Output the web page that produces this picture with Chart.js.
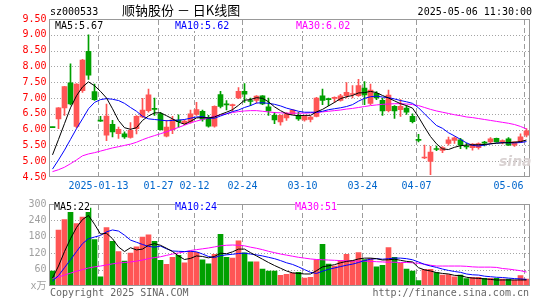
<!DOCTYPE html>
<html><head><meta charset="utf-8">
<script src="https://cdn.jsdelivr.net/npm/chart.js@4.4.1/dist/chart.umd.min.js"></script>
<style>
html,body{margin:0;padding:0;background:#fff;width:545px;height:300px;overflow:hidden;}
#wrap{position:relative;width:545px;height:300px;font-family:"DejaVu Sans Mono",monospace;font-size:10px;}
canvas{position:absolute;left:0;z-index:2;}
#grid{position:absolute;left:0;top:0;width:545px;height:300px;z-index:1;}
.gh{position:absolute;height:1px;background:repeating-linear-gradient(to right,#a4a4a4 0px,#a4a4a4 1px,transparent 1px,transparent 3px);}
.gv{position:absolute;width:1px;background:repeating-linear-gradient(to bottom,#9c9c9c 0px,#9c9c9c 5px,transparent 5px,transparent 8px);}
.t{position:absolute;white-space:pre;line-height:11px;height:11px;z-index:3;}
.bg{background:#fff;}
</style></head><body>
<div id="wrap">
<div id="grid"></div>
<canvas id="k" width="545" height="195" style="top:0;"></canvas>
<canvas id="v" width="545" height="105" style="top:195px;"></canvas>
<div class="t" style="left:50px;top:6px;color:#000;">sz000533</div>
<div class="t" style="left:122px;top:2px;font-family:'Noto Sans CJK SC';font-size:13px;line-height:16px;height:16px;color:#000;">顺钠股份 － 日K线图</div>
<div class="t" style="right:13px;top:6px;color:#000;">2025-05-06 11:30:00</div>
<div class="t bg" id="kma5" style="left:55px;top:20px;color:#000;"></div>
<div class="t bg" id="kma10" style="left:175px;top:20px;color:#0000ff;"></div>
<div class="t bg" id="kma30" style="left:296px;top:20px;color:#ff00ff;"></div>
<div class="t bg" id="vma5" style="left:54px;top:201px;color:#000;"></div>
<div class="t bg" id="vma10" style="left:175px;top:201px;color:#0000ff;"></div>
<div class="t bg" id="vma30" style="left:295px;top:201px;color:#ff00ff;"></div>
<div class="t" style="left:499px;top:153px;font-family:'DejaVu Sans';font-style:italic;font-weight:bold;font-size:14px;line-height:16px;height:16px;color:#d9d2d2;">sina</div>
<div class="t" style="left:50px;top:287px;color:#666;">Copyright 2025 SINA.COM</div>
<div class="t" style="right:16px;top:287px;color:#666;">http://finance.sina.com.cn</div>
</div>
<script>
const dates = ['2024-12-31','2025-01-02','2025-01-03','2025-01-06','2025-01-07','2025-01-08','2025-01-09','2025-01-10','2025-01-13','2025-01-14',
'2025-01-15','2025-01-16','2025-01-17','2025-01-20','2025-01-21','2025-01-22','2025-01-23','2025-01-24','2025-01-27','2025-02-05',
'2025-02-06','2025-02-07','2025-02-10','2025-02-11','2025-02-12','2025-02-13','2025-02-14','2025-02-17','2025-02-18','2025-02-19',
'2025-02-20','2025-02-21','2025-02-24','2025-02-25','2025-02-26','2025-02-27','2025-02-28','2025-03-03','2025-03-04','2025-03-05',
'2025-03-06','2025-03-07','2025-03-10','2025-03-11','2025-03-12','2025-03-13','2025-03-14','2025-03-17','2025-03-18','2025-03-19',
'2025-03-20','2025-03-21','2025-03-24','2025-03-25','2025-03-26','2025-03-27','2025-03-28','2025-03-31','2025-04-01','2025-04-02',
'2025-04-03','2025-04-07','2025-04-08','2025-04-09','2025-04-10','2025-04-11','2025-04-14','2025-04-15','2025-04-16','2025-04-17',
'2025-04-18','2025-04-21','2025-04-22','2025-04-23','2025-04-24','2025-04-25','2025-04-28','2025-04-29','2025-04-30','2025-05-06'];

const tickDates = ['2025-01-13','2025-01-27','2025-02-12','2025-02-24','2025-03-10','2025-03-24','2025-04-07','2025-05-06'];
const tickLabels = ['2025-01-13','01-27','02-12','02-24','03-10','03-24','04-07','05-06'];

const open = [6.08,6.34,6.69,7.48,6.10,7.23,8.48,7.20,6.28,5.82,
6.17,5.87,5.87,5.75,6.03,6.40,6.60,6.67,6.50,5.79,
6.00,6.30,6.19,6.25,6.48,6.58,6.38,6.11,7.11,6.81,
6.76,7.00,7.21,6.91,6.92,7.07,6.72,6.45,6.24,6.37,
6.50,6.45,6.31,6.32,6.42,7.07,6.97,6.99,6.92,7.07,
7.11,7.07,7.31,6.83,7.15,6.93,6.60,6.74,6.63,6.68,
6.42,5.68,5.10,4.99,5.39,5.34,5.56,5.66,5.68,5.47,
5.43,5.43,5.59,5.61,5.72,5.62,5.71,5.51,5.61,5.82];
const high = [6.08,6.70,7.37,8.08,7.46,8.22,9.00,7.44,6.42,6.81,
6.29,6.08,5.93,6.22,6.44,6.99,7.28,7.00,6.55,6.29,
6.42,6.47,6.31,6.62,6.86,6.62,6.45,6.75,7.21,6.92,
6.81,7.33,7.46,7.00,7.08,7.08,7.00,6.55,6.47,6.54,
6.64,6.55,6.45,6.42,7.02,7.28,7.00,7.04,7.12,7.49,
7.39,7.59,7.52,7.44,7.20,7.00,7.25,6.76,6.95,6.76,
6.50,5.85,5.51,5.47,5.48,5.46,5.76,5.77,5.72,5.57,
5.56,5.58,5.63,5.75,5.73,5.68,5.75,5.61,5.87,6.03];
const low = [6.06,6.03,6.45,6.78,6.05,7.18,7.59,6.92,6.26,5.65,
5.77,5.72,5.72,5.73,5.86,6.38,6.55,6.45,5.98,5.77,
5.87,6.08,6.16,6.20,6.45,6.27,6.08,6.08,6.69,6.62,
6.58,6.98,6.86,6.76,6.84,6.79,6.45,6.19,6.14,6.29,
6.48,6.29,6.27,6.24,6.40,6.79,6.76,6.86,6.90,7.00,
7.00,7.05,6.79,6.79,6.95,6.45,6.56,6.35,6.42,6.48,
6.21,5.61,5.08,4.57,5.33,5.27,5.51,5.56,5.40,5.39,
5.35,5.38,5.48,5.56,5.60,5.55,5.50,5.47,5.59,5.77];
const close = [6.06,6.69,7.36,6.81,7.44,8.20,7.72,6.95,6.27,6.43,
5.93,6.01,5.77,5.98,6.42,6.62,7.10,6.64,6.00,6.08,
6.31,6.25,6.27,6.50,6.63,6.33,6.11,6.74,6.73,6.78,
6.78,7.21,7.12,6.89,7.06,6.81,6.59,6.31,6.45,6.50,
6.62,6.34,6.42,6.40,7.00,6.92,6.95,7.01,7.07,7.18,
7.13,7.39,7.10,7.25,7.00,6.59,7.09,6.59,6.74,6.55,
6.25,5.66,5.12,5.29,5.37,5.43,5.68,5.74,5.51,5.45,
5.54,5.56,5.57,5.71,5.61,5.64,5.51,5.61,5.77,5.96];

const ma5 = [5.20,5.69,6.19,6.69,7.07,7.35,7.51,7.39,7.21,7.00,
6.66,6.29,6.06,6.01,6.06,6.29,6.43,6.53,6.53,6.44,
6.34,6.24,6.17,6.26,6.37,6.38,6.37,6.40,6.48,6.55,
6.63,6.77,6.93,6.95,7.01,6.99,6.88,6.72,6.60,6.50,
6.46,6.44,6.45,6.45,6.56,6.64,6.75,6.86,6.98,7.04,
7.08,7.16,7.17,7.21,7.17,7.08,7.00,6.91,6.82,6.76,
6.68,6.40,6.08,5.78,5.55,5.39,5.37,5.44,5.49,5.51,
5.52,5.52,5.53,5.55,5.57,5.58,5.59,5.60,5.62,5.67];
const ma10 = [4.75,5.04,5.35,5.69,6.03,6.34,6.66,6.86,6.95,6.98,
6.96,6.92,6.83,6.70,6.58,6.42,6.34,6.32,6.30,6.28,
6.29,6.30,6.32,6.36,6.40,6.41,6.36,6.36,6.43,6.50,
6.57,6.62,6.70,6.76,6.84,6.85,6.83,6.80,6.75,6.68,
6.63,6.58,6.55,6.55,6.55,6.58,6.63,6.66,6.69,6.73,
6.79,6.90,6.99,7.04,7.06,7.03,7.01,6.97,6.92,6.88,
6.83,6.69,6.50,6.31,6.13,6.04,5.90,5.80,5.69,5.58,
5.50,5.48,5.51,5.55,5.57,5.59,5.58,5.58,5.59,5.62];
const ma30 = [4.67,4.73,4.81,4.92,5.04,5.17,5.23,5.27,5.32,5.37,
5.42,5.46,5.50,5.54,5.60,5.68,5.75,5.81,5.87,5.93,
6.00,6.07,6.14,6.21,6.27,6.32,6.37,6.42,6.46,6.50,
6.54,6.57,6.59,6.60,6.60,6.58,6.56,6.54,6.53,6.52,
6.52,6.52,6.52,6.53,6.54,6.56,6.58,6.60,6.62,6.65,
6.67,6.70,6.73,6.76,6.78,6.80,6.81,6.82,6.82,6.81,
6.79,6.76,6.70,6.64,6.59,6.55,6.51,6.47,6.44,6.40,
6.38,6.35,6.32,6.29,6.26,6.23,6.20,6.16,6.10,6.02];

const volume = [55,205,243,296,228,252,285,170,34,214,
163,126,91,120,143,179,187,163,94,79,
105,112,85,126,123,96,81,116,189,105,
102,165,121,88,88,62,55,55,39,43,
47,50,29,32,96,152,80,73,93,116,
93,122,97,100,70,76,141,105,83,62,
55,20,61,61,49,40,42,34,40,27,
32,32,28,28,28,25,25,22,38,25];
const volMa5 = [29,73,126,173,214,243,258,226,190,193,
173,143,126,140,132,135,149,155,149,138,
126,110,97,101,110,108,103,108,120,118,
125,135,135,122,110,98,86,75,65,55,
48,46,44,44,56,70,74,78,85,90,
93,99,102,102,100,95,96,98,94,90,
88,67,59,55,49,46,44,39,38,32,
29,28,26,24,22,22,22,22,22,22];
const volMa10 = [18,38,67,96,126,155,173,179,185,198,
205,201,186,168,160,152,145,142,146,136,
128,127,126,127,125,117,108,104,111,114,
116,119,120,117,114,110,105,100,93,85,
79,70,60,50,46,54,61,66,71,76,
80,86,93,98,100,98,100,102,102,100,
96,88,79,73,68,62,57,53,50,44,
41,40,36,34,32,31,29,27,26,24];
const volMa30 = [28,33,40,47,54,60,66,70,73,77,
81,84,86,88,91,95,100,104,107,112,
117,121,125,130,133,136,139,143,147,149,
150,149,147,142,138,133,127,122,117,113,
109,105,102,99,97,96,95,94,93,92,
91,91,91,90,89,88,87,87,86,86,
85,83,80,76,73,73,73,73,73,72,
70,69,69,69,68,64,62,59,56,51];

const priceGrid = [9.0,8.5,8.0,7.5,7.0,6.5,6.0,5.5,5.0];
const volGrid = [240,180,120,60];

const RED = '#ff5555', GREEN = '#00a000';
const MONO = '"DejaVu Sans Mono", "Noto Sans CJK SC", monospace';
const markIdx = tickDates.map(d => dates.indexOf(d));
const upColor = open.map((o, i) => close[i] >= o ? RED : GREEN);
const bodies = open.map((o, i) => [Math.min(o, close[i]), Math.max(o, close[i])]);
const wicks = low.map((l, i) => [l, high[i]]);

document.getElementById('kma5').textContent = 'MA5:' + ma5[ma5.length-1].toFixed(2);
document.getElementById('kma10').textContent = 'MA10:' + ma10[ma10.length-1].toFixed(2);
document.getElementById('kma30').textContent = 'MA30:' + ma30[ma30.length-1].toFixed(2);
document.getElementById('vma5').textContent = 'MA5:' + volMa5[volMa5.length-1];
document.getElementById('vma10').textContent = 'MA10:' + volMa10[volMa10.length-1];
document.getElementById('vma30').textContent = 'MA30:' + volMa30[volMa30.length-1];

const framePlugin = {
  id: 'frame',
  afterDatasetsDraw(chart) {
    const {ctx, chartArea: a, scales: {x}} = chart;
    ctx.save();
    ctx.strokeStyle = '#999999';
    ctx.lineWidth = 1;
    const t = Math.round(a.top), b = Math.round(a.bottom);
    ctx.strokeRect(a.left, t + 0.5, a.right - a.left, b - t - 1);
    if (chart.canvas.id === 'k') {
      ctx.fillStyle = '#0066cc';
      ctx.font = '10px ' + MONO;
      ctx.textBaseline = 'middle';
      markIdx.forEach((i, k) => {
        const px = Math.floor(x.getPixelForValue(i)) - 2 + 0.5;
        const last = k === markIdx.length - 1;
        ctx.textAlign = last ? 'right' : 'center';
        ctx.fillText(tickLabels[k], last ? px - 1 : px, b + 9.5);
      });
    }
    ctx.restore();
  }
};

const lineDs = (data, color) => ({type: 'line', data, borderColor: color, borderWidth: 1,
  pointRadius: 0, tension: 0, fill: false, order: 0});

const kChart = new Chart(document.getElementById('k'), {
  type: 'bar',
  data: {
    labels: dates,
    datasets: [
      lineDs(ma5, '#000000'),
      lineDs(ma10, '#0000ff'),
      lineDs(ma30, '#ff00ff'),
      {data: bodies, backgroundColor: upColor, barThickness: 5, grouped: false, minBarLength: 1, order: 1},
      {data: wicks, backgroundColor: upColor, barThickness: 1, grouped: false, order: 2}
    ]
  },
  options: {
    responsive: false, animation: false, devicePixelRatio: 1,
    layout: {padding: {left: 0, right: 15.5, top: 19, bottom: 18}},
    plugins: {legend: {display: false}, tooltip: {enabled: false}},
    scales: {
      x: {display: false, offset: true},
      y: {min: 4.5, max: 9.5,
        ticks: {stepSize: 0.5, color: '#ff0000', padding: 3, font: {family: MONO, size: 10},
          callback: v => Number(v).toFixed(2)},
        grid: {display: false, drawTicks: false}, border: {display: false},
        afterFit(s) { s.width = 49.5; }}
    }
  },
  plugins: [framePlugin]
});

const vChart = new Chart(document.getElementById('v'), {
  type: 'bar',
  data: {
    labels: dates,
    datasets: [
      lineDs(volMa5, '#000000'),
      lineDs(volMa10, '#0000ff'),
      lineDs(volMa30, '#ff00ff'),
      {data: volume, backgroundColor: upColor, barThickness: 5, grouped: false, order: 1}
    ]
  },
  options: {
    responsive: false, animation: false, devicePixelRatio: 1,
    layout: {padding: {left: 0, right: 15.5, top: 6, bottom: 14}},
    plugins: {legend: {display: false}, tooltip: {enabled: false}},
    scales: {
      x: {display: false, offset: true},
      y: {min: 0, max: 300,
        ticks: {stepSize: 60, color: '#a0a0a0', padding: 3, font: {family: MONO, size: 10},
          callback: v => v === 0 ? 'x万' : String(v)},
        grid: {display: false, drawTicks: false}, border: {display: false},
        afterFit(s) { s.width = 49.5; }}
    }
  },
  plugins: [framePlugin]
});

// Grid layer behind the transparent chart canvases, positioned from each chart's scales
function addGrid(chart, offsetTop, vals) {
  const g = document.getElementById('grid');
  const a = chart.chartArea, x = chart.scales.x, y = chart.scales.y;
  const L = Math.round(a.left) + 1, R = Math.round(a.right);
  const T = Math.round(a.top) + 1, B = Math.round(a.bottom) - 1;
  vals.forEach(v => {
    const d = document.createElement('div');
    d.className = 'gh';
    d.style.left = L + 'px';
    d.style.width = (R - L) + 'px';
    d.style.top = (offsetTop + Math.round(y.getPixelForValue(v))) + 'px';
    g.appendChild(d);
  });
  markIdx.forEach(i => {
    const d = document.createElement('div');
    d.className = 'gv';
    d.style.left = (Math.floor(x.getPixelForValue(i)) - 2) + 'px';
    d.style.top = (offsetTop + T) + 'px';
    d.style.height = (B - T) + 'px';
    g.appendChild(d);
  });
}
addGrid(kChart, 0, priceGrid);
addGrid(vChart, 195, volGrid);
</script>
</body></html>
